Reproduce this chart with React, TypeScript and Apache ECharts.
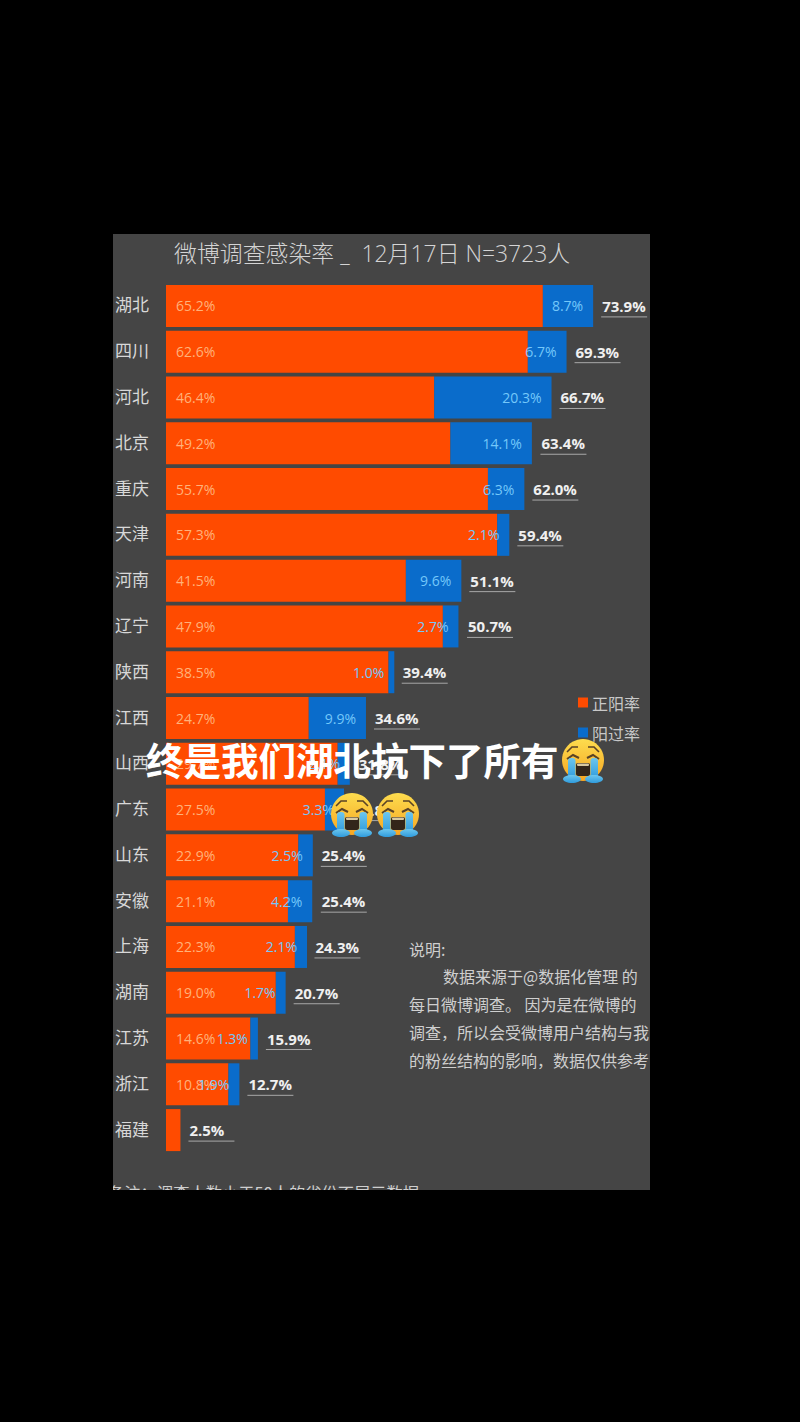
import React, { useEffect, useRef } from "react";
import * as echarts from "echarts";

const provinces = ["湖北","四川","河北","北京","重庆","天津","河南","辽宁","陕西","江西","山西","广东","山东","安徽","上海","湖南","江苏","浙江","福建"];
const positiveRate = [65.2,62.6,46.4,49.2,55.7,57.3,41.5,47.9,38.5,24.7,29.7,27.5,22.9,21.1,22.3,19.0,14.6,10.8,2.5];
const recoveredRate = [8.7,6.7,20.3,14.1,6.3,2.1,9.6,2.7,1.0,9.9,2.1,3.3,2.5,4.2,2.1,1.7,1.3,1.9,null];
const totalRate = [73.9,69.3,66.7,63.4,62.0,59.4,51.1,50.7,39.4,34.6,31.8,30.8,25.4,25.4,24.3,20.7,15.9,12.7,2.5];
const titleText = "微博调查感染率 _  12月17日 N=3723人";
const captionText = "终是我们湖北抗下了所有";
const noteLines = ["说明:","数据来源于@数据化管理 的","每日微博调查。 因为是在微博的","调查，所以会受微博用户结构与我","的粉丝结构的影响，数据仅供参考"];
const footText = "备注：调查人数小于50人的省份不展示数据";

const CJK = '"Noto Sans CJK SC", sans-serif';
const LATIN = '"Open Sans", "Noto Sans CJK SC", sans-serif';

function emoji(cx: number, cy: number, r: number) {
  const s = r / 21;
  const z = 110;
  const yellow = new echarts.graphic.LinearGradient(0, 0, 0, 1, [
    { offset: 0, color: "#fddc4e" },
    { offset: 1, color: "#f6a623" },
  ]);
  const tear = new echarts.graphic.LinearGradient(0, 0, 0, 1, [
    { offset: 0, color: "#6cc6ee" },
    { offset: 1, color: "#2f9bdc" },
  ]);
  const brow = "#5a4326";
  return {
    type: "group",
    silent: true,
    z,
    children: [
      { type: "circle", z, shape: { cx, cy, r }, style: { fill: yellow } },
      { type: "polyline", z: z + 1, shape: { points: [[cx - 16 * s, cy - 8 * s], [cx - 11 * s, cy - 13 * s], [cx - 5 * s, cy - 13 * s]] }, style: { stroke: brow, lineWidth: 1.6 * s, fill: "none" } },
      { type: "polyline", z: z + 1, shape: { points: [[cx + 16 * s, cy - 8 * s], [cx + 11 * s, cy - 13 * s], [cx + 5 * s, cy - 13 * s]] }, style: { stroke: brow, lineWidth: 1.6 * s, fill: "none" } },
      { type: "polyline", z: z + 1, shape: { points: [[cx - 16 * s, cy - 1 * s], [cx - 10 * s, cy - 5 * s], [cx - 4 * s, cy - 2 * s]] }, style: { stroke: brow, lineWidth: 2 * s, fill: "none" } },
      { type: "polyline", z: z + 1, shape: { points: [[cx + 16 * s, cy - 1 * s], [cx + 10 * s, cy - 5 * s], [cx + 4 * s, cy - 2 * s]] }, style: { stroke: brow, lineWidth: 2 * s, fill: "none" } },
      { type: "rect", z: z + 1, shape: { x: cx - 7 * s, y: cy + 3 * s, width: 14 * s, height: 13 * s, r: 2 * s }, style: { fill: "#33261a" } },
      { type: "rect", z: z + 2, shape: { x: cx - 6 * s, y: cy + 3.5 * s, width: 12 * s, height: 2.5 * s, r: 1 * s }, style: { fill: "#d9c9a0" } },
      { type: "rect", z: z + 3, shape: { x: cx - 15 * s, y: cy - 2 * s, width: 7.5 * s, height: 21 * s, r: 3 * s }, style: { fill: tear } },
      { type: "rect", z: z + 3, shape: { x: cx + 7.5 * s, y: cy - 2 * s, width: 7.5 * s, height: 21 * s, r: 3 * s }, style: { fill: tear } },
      { type: "ellipse", z: z + 3, shape: { cx: cx - 11 * s, cy: cy + 19 * s, rx: 9 * s, ry: 4 * s }, style: { fill: tear } },
      { type: "ellipse", z: z + 3, shape: { cx: cx + 11 * s, cy: cy + 19 * s, rx: 9 * s, ry: 4 * s }, style: { fill: tear } },
    ],
  };
}

export default function App() {
  const ref = useRef<HTMLDivElement>(null);
  useEffect(() => {
    const chart = echarts.init(ref.current!, null, { renderer: "svg" });
    const noteYs = [949, 976, 1004, 1032, 1060];
    const noteXs = [409, 443, 409, 409, 409];
    chart.setOption({
      animation: false,
      backgroundColor: "#000000",
      grid: { left: 166, top: 283, width: 462.4, height: 870, containLabel: false },
      xAxis: { type: "value", min: 0, max: 80, show: false },
      yAxis: {
        type: "category",
        inverse: true,
        data: provinces,
        axisLine: { show: false },
        axisTick: { show: false },
        axisLabel: { color: "#d8d8d8", fontSize: 17, margin: 17, fontFamily: CJK, verticalAlign: "bottom", lineHeight: 4 },
      },
      legend: {
        show: true,
        orient: "vertical",
        left: 573,
        top: 687,
        itemWidth: 10,
        itemHeight: 10,
        itemGap: 9,
        icon: "rect",
        data: ["正阳率", "阳过率"],
        textStyle: { color: "#c8c8c8", fontSize: 16, lineHeight: 21, fontFamily: CJK, padding: [0, 0, 0, -1] },
      },
      series: [
        {
          name: "正阳率",
          type: "bar",
          stack: "rate",
          barWidth: 42,
          data: positiveRate,
          itemStyle: { color: "#ff4b00" },
          label: {
            show: true,
            position: "insideLeft",
            distance: 10,
            formatter: (p: any) => (recoveredRate[p.dataIndex] == null ? "" : `${p.value.toFixed(1)}%`),
            color: "#ffb27a",
            fontSize: 14,
            fontFamily: LATIN,
          },
        },
        {
          name: "阳过率",
          type: "bar",
          stack: "rate",
          barWidth: 42,
          data: recoveredRate,
          itemStyle: { color: "#0a6ccb" },
          label: {
            show: true,
            position: "insideRight",
            distance: 10,
            formatter: (p: any) => `${p.value.toFixed(1)}%`,
            color: "#74c8fa",
            fontSize: 14,
            fontFamily: LATIN,
          },
          z: 3,
        },
        {
          name: "合计",
          type: "custom",
          z: 4,
          data: totalRate.map((t, i) => [t, i]),
          encode: { x: 0, y: 1 },
          renderItem: (_p: any, api: any) => {
            const t = api.value(0);
            const [x, y] = api.coord([t, api.value(1)]);
            const tx = x + 9;
            return {
              type: "group",
              children: [
                { type: "text", style: { text: `${t.toFixed(1)}%`, x: tx, y, fill: "#f0f0f0", font: `bold 15px ${LATIN}`, align: "left", verticalAlign: "middle" } },
                { type: "line", shape: { x1: tx - 1, y1: y + 11, x2: tx + 45, y2: y + 11 }, style: { stroke: "#a8a8a8", lineWidth: 1 } },
              ],
            };
          },
        },
      ],
      graphic: [
        { type: "rect", z: -10, silent: true, shape: { x: 113, y: 234, width: 537, height: 956 }, style: { fill: "#454545" } },
        { type: "text", z: 1, x: 174, y: 253, style: { text: titleText, fill: "#d4d4d4", font: `300 22.9px ${LATIN}`, verticalAlign: "middle" } },
        ...noteLines.map((text, i) => ({
          type: "text", z: 1, x: noteXs[i], y: noteYs[i],
          style: { text, fill: "#cfcfcf", font: `16px ${CJK}`, verticalAlign: "middle" },
        })),
        { type: "text", z: 1, x: 108, y: 1192, style: { text: footText, fill: "#cfcfcf", font: `16.3px ${CJK}`, verticalAlign: "middle" } },
        { type: "rect", z: 50, silent: true, shape: { x: 0, y: 1190, width: 800, height: 40 }, style: { fill: "#000000" } },
        { type: "rect", z: 50, silent: true, shape: { x: 650, y: 900, width: 150, height: 300 }, style: { fill: "#000000" } },
        { type: "rect", z: 50, silent: true, shape: { x: 90, y: 1170, width: 23, height: 40 }, style: { fill: "#000000" } },
        {
          type: "text", z: 100, x: 146, y: 758,
          style: { text: captionText, fill: "#ffffff", font: `bold 37.5px ${CJK}`, verticalAlign: "middle", shadowColor: "rgba(0,0,0,0.75)", shadowBlur: 3, shadowOffsetX: 1, shadowOffsetY: 1 },
        },
        emoji(583, 760, 21),
        emoji(352, 814, 21),
        emoji(398, 814, 21),
      ],
    });
    return () => chart.dispose();
  }, []);
  return <div ref={ref} style={{ position: "absolute", left: 0, top: 0, width: 800, height: 1422 }} />;
}
